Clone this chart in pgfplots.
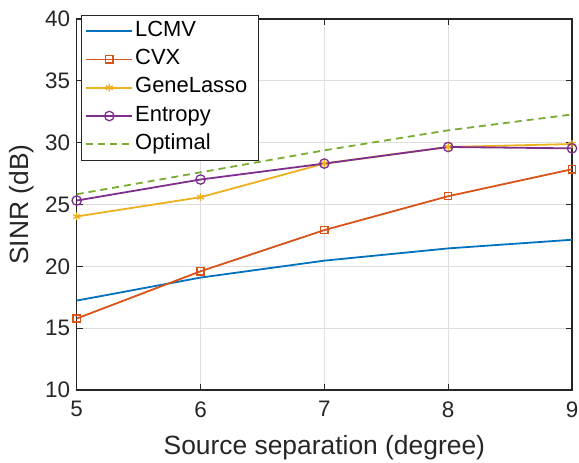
\documentclass[border=0pt]{standalone}
\usepackage{fontspec}
\setmainfont{Liberation Sans}
\usepackage{pgfplots}
\pgfplotsset{compat=1.18}
\definecolor{mBlue}{rgb}{0,0.447,0.741}
\definecolor{mOrange}{rgb}{0.85,0.325,0.098}
\definecolor{mYellow}{rgb}{0.929,0.694,0.125}
\definecolor{mPurple}{rgb}{0.494,0.184,0.556}
\definecolor{mGreen}{rgb}{0.466,0.674,0.188}
\definecolor{axgray}{rgb}{0.15,0.15,0.15}

\begin{document}
\begin{tikzpicture}
\begin{axis}[
    name=ax,
    scale only axis,
    width=495.3bp, height=371bp,
    xmin=5, xmax=9, ymin=10, ymax=40,
    xtick={5,6,7,8,9},
    ytick={10,15,20,25,30,35,40},
    clip=false,
    grid=major,
    major grid style={color=black!13, line width=0.8bp},
    axis line style={color=axgray, line width=1.1bp},
    tick style={color=axgray, line width=1.1bp},
    major tick length=6bp,
    tick align=inside,
    /pgf/number format/assume math mode=true,
    ticklabel style={font=\fontsize{22.5}{26}\selectfont, text=axgray},
    xticklabel style={yshift=-8bp},
    yticklabel style={xshift=-3bp},
    xlabel={Source separation (degree)},
    ylabel={SINR (dB)},
    label style={font=\fontsize{26.5}{31}\selectfont, text=axgray},
    x label style={at={(axis description cs:0.5,0)}, yshift=-58bp, anchor=center},
    y label style={at={(axis description cs:-0.111,0.5)}, anchor=center},
    legend image code/.code={\draw[mark repeat=2,mark phase=2,#1] plot coordinates {(0bp,0bp) (23bp,0bp) (46bp,0bp)};},
    legend cell align=left,
    legend style={
        at={(0.0081,1.0108)}, anchor=north west,
        draw=axgray, line width=0.8bp, fill=white,
        font=\fontsize{22}{26}\selectfont,
        inner xsep=4.3bp, inner ysep=4bp,
        row sep=4.8bp, column sep=0bp,
        nodes={text height=15bp, text depth=4.5bp, inner ysep=2bp},
        /tikz/every even column/.append style={inner xsep=3bp, text width=117.4bp},
    },
]
\addplot[color=mBlue, line width=1.8bp] coordinates {
    (5,17.23) (6,19.09) (7,20.46) (8,21.45) (9,22.15)
};
\addplot[color=mOrange, line width=1.8bp, mark=square, mark size=3.6bp, mark options={solid, line width=1.3bp}] coordinates {
    (5,15.78) (6,19.60) (7,22.93) (8,25.67) (9,27.85)
};
\addplot[color=mYellow, line width=1.8bp, mark=asterisk, mark size=4bp, mark options={solid, line width=1.3bp}] coordinates {
    (5,24.03) (6,25.59) (7,28.31) (8,29.65) (9,29.89)
};
\addplot[color=mPurple, line width=1.8bp, mark=o, mark size=4.7bp, mark options={solid, line width=1.3bp}] coordinates {
    (5,25.32) (6,27.02) (7,28.31) (8,29.65) (9,29.54)
};
\addplot[color=mGreen, line width=1.8bp, dash pattern=on 7bp off 5bp] coordinates {
    (5,25.83) (6,27.60) (7,29.38) (8,31.00) (9,32.28)
};
\legend{LCMV, CVX, GeneLasso, Entropy, Optimal}
\end{axis}
\pgfresetboundingbox
\path[use as bounding box] ([xshift=-76.7bp,yshift=-73bp]ax.south west) rectangle ([xshift=7bp,yshift=19bp]ax.north east);
\end{tikzpicture}
\end{document}
